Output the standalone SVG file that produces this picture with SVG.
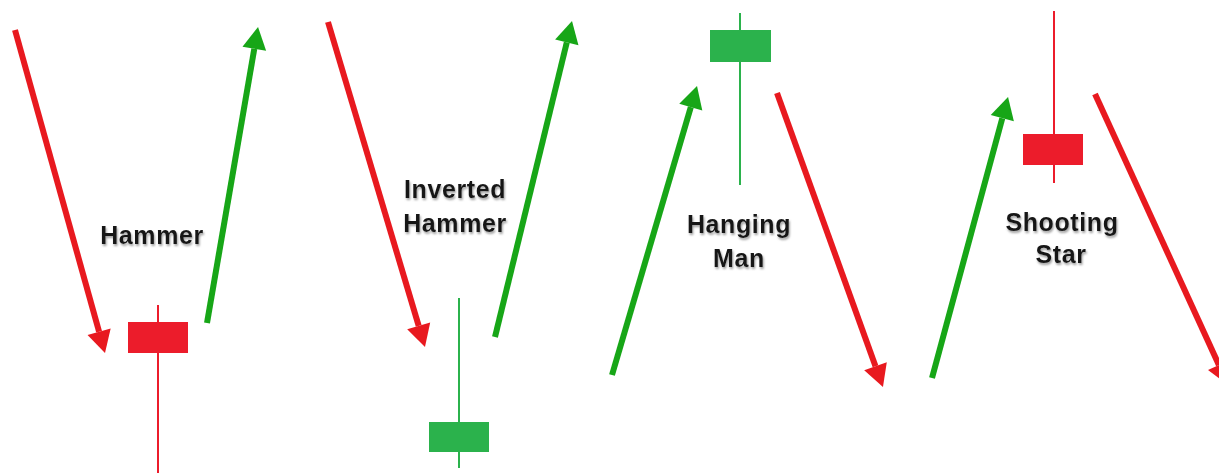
<svg xmlns="http://www.w3.org/2000/svg" width="1219" height="473" viewBox="0 0 1219 473">
<defs>
<marker id="hr" markerUnits="userSpaceOnUse" markerWidth="24" markerHeight="26" refX="0" refY="12" orient="auto" overflow="visible"><path d="M0,0 L22,12 L0,24 z" fill="#e8191f"/></marker>
<marker id="hg" markerUnits="userSpaceOnUse" markerWidth="24" markerHeight="26" refX="0" refY="12" orient="auto" overflow="visible"><path d="M0,0 L22,12 L0,24 z" fill="#17a617"/></marker>
<filter id="sh" x="-10%" y="-20%" width="130%" height="160%"><feDropShadow dx="1" dy="2" stdDeviation="1.2" flood-color="#888" flood-opacity="0.8"/></filter>
<style>
.ar{stroke:#e8191f;stroke-width:6;fill:none;marker-end:url(#hr)}
.ag{stroke:#17a617;stroke-width:6;fill:none;marker-end:url(#hg)}
.wr{stroke:#ec1c2b;stroke-width:2}
.wg{stroke:#2bb24c;stroke-width:2}
.br{fill:#ec1c2b}
.bg{fill:#2bb24c}
.lb{font-family:"Liberation Sans",Arial,sans-serif;font-weight:bold;font-size:25px;fill:#151515;text-anchor:middle;letter-spacing:0.6px;filter:url(#sh)}
</style>
</defs>
<rect width="1219" height="473" fill="#fff"/>
<g id="connectors">
<line class="ar" x1="15" y1="30" x2="99.1" y2="331.8"/>
<line class="ag" x1="207" y1="323" x2="254.3" y2="48.7"/>
<line class="ar" x1="328" y1="22" x2="418.7" y2="325.9"/>
<line class="ag" x1="495" y1="337" x2="566.8" y2="42.4"/>
<line class="ag" x1="612" y1="375" x2="690.8" y2="107.1"/>
<line class="ar" x1="777" y1="93" x2="875.5" y2="366.3"/>
<line class="ag" x1="932" y1="378" x2="1002.3" y2="118.2"/>
<line class="ar" x1="1095" y1="94" x2="1218.9" y2="365"/>
</g>
<g id="hammer">
<line class="wr" x1="158" y1="305" x2="158" y2="473"/>
<rect class="br" x="128" y="322" width="60" height="31"/>
<text class="lb" x="152" y="244">Hammer</text>
</g>
<g id="inverted-hammer">
<line class="wg" x1="459" y1="298" x2="459" y2="468"/>
<rect class="bg" x="429" y="422" width="60" height="30"/>
<text class="lb" x="455" y="198">Inverted</text>
<text class="lb" x="455" y="232">Hammer</text>
</g>
<g id="hanging-man">
<line class="wg" x1="740" y1="13" x2="740" y2="185"/>
<rect class="bg" x="710" y="30" width="61" height="32"/>
<text class="lb" x="739" y="233">Hanging</text>
<text class="lb" x="739" y="267">Man</text>
</g>
<g id="shooting-star">
<line class="wr" x1="1054" y1="11" x2="1054" y2="183"/>
<rect class="br" x="1023" y="134" width="60" height="31"/>
<text class="lb" x="1062" y="231">Shooting</text>
<text class="lb" x="1061" y="263">Star</text>
</g>
</svg>
